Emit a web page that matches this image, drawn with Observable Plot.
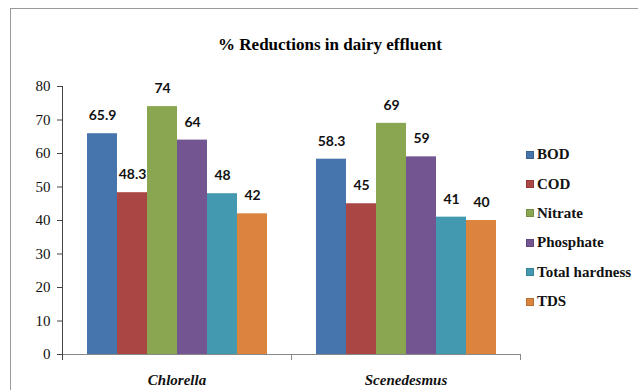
<!DOCTYPE html>
<html>
<head>
<meta charset="utf-8">
<script src="https://cdn.jsdelivr.net/npm/d3@7"></script>
<script src="https://cdn.jsdelivr.net/npm/@observablehq/plot@0.6"></script>
<style>
  body { margin: 0; background: #fff; }
  #wrap { position: relative; width: 638px; height: 390px; overflow: hidden; background: #fff; }
  #box { position: absolute; left: 10px; top: 8px; width: 700px; height: 500px; border: 1px solid #9a9a9a; }
  #title { position: absolute; left: 0; width: 660px; top: 35px; text-align: center;
           font-family: "Liberation Serif", "Times New Roman", Times, "DejaVu Serif", serif;
           font-weight: bold; font-size: 17px; color: #000; }
  #legend { position: absolute; left: 526px; top: 140px;
            font-family: "Liberation Serif", "Times New Roman", Times, "DejaVu Serif", serif;
            font-weight: bold; font-size: 15px; color: #111; }
  .item { display: flex; align-items: center; height: 29.4px; white-space: nowrap; }
  .sw { width: 8px; height: 8px; margin-right: 3px; box-sizing: border-box; border: 1px solid rgba(0,0,0,0.15); }
  #chart svg { position: absolute; left: 0; top: 0; background: transparent; }
</style>
</head>
<body>
<div id="wrap">
  <div id="box"></div>
  <div id="chart"></div>
  <div id="title">% Reductions in dairy effluent</div>
  <div id="legend"></div>
</div>
<script>
// Algae species (groups) and effluent parameters (series)
const groups = ["Chlorella", "Scenedesmus"];
const params = ["BOD", "COD", "Nitrate", "Phosphate", "Total hardness", "TDS"];
const chlorella = [65.9, 48.3, 74, 64, 48, 42];
const scenedesmus = [58.3, 45, 69, 59, 41, 40];
const yTicks = [0, 10, 20, 30, 40, 50, 60, 70, 80];
const colors = ["#4674AC", "#AA4644", "#8AA650", "#735592", "#4299B0", "#DB843D"];

const serif = '"Liberation Serif", "Times New Roman", Times, "DejaVu Serif", serif';

const rows = [];
params.forEach((p, i) => rows.push({group: groups[0], param: p, value: chlorella[i]}));
params.forEach((p, i) => rows.push({group: groups[1], param: p, value: scenedesmus[i]}));

const W = 638, H = 390, mT = 86, mB = 36;

const chart = Plot.plot({
  width: W,
  height: H,
  marginLeft: 61,
  marginRight: 118,
  marginTop: mT,
  marginBottom: mB,
  style: {background: "transparent", overflow: "visible"},
  fx: {domain: groups, padding: 0, axis: null},
  x: {domain: params, paddingInner: 0, paddingOuter: 0.72, axis: null},
  y: {domain: [0, 80], label: null, axis: null},
  color: {domain: params, range: colors},
  marks: [
    Plot.barY(rows, {fx: "group", x: "param", y: "value", fill: "param"}),
    Plot.text(rows, {
      fx: "group", x: "param", y: "value", text: d => String(d.value),
      dy: -18, lineAnchor: "middle", fontFamily: "Lato", fontWeight: "bold", fontSize: 14, fill: "#111"
    }),
    Plot.ruleY([0], {stroke: "#888"}),
    // small category separator ticks below the baseline
    Plot.frame({anchor: "right", insetTop: H - mT - mB, insetBottom: -5, stroke: "#888"}),
    // value axis line
    Plot.frame({anchor: "left", facet: "super", insetBottom: -5, stroke: "#444"}),
    Plot.axisY({
      ticks: yTicks, tickSize: 5, tickPadding: 7, label: null, stroke: "#444",
      fontFamily: serif, fontSize: 15, fill: "#111"
    }),
    Plot.text(groups, {
      fx: d => d, text: d => d, frameAnchor: "bottom", dy: 26, lineAnchor: "middle",
      fontFamily: serif, fontStyle: "italic", fontWeight: "bold", fontSize: 15, fill: "#111"
    })
  ]
});
document.getElementById("chart").appendChild(chart);

// legend built from the same series and colours
const legend = document.getElementById("legend");
params.forEach((p, i) => {
  const item = document.createElement("div");
  item.className = "item";
  const sw = document.createElement("span");
  sw.className = "sw";
  sw.style.background = colors[i];
  const label = document.createElement("span");
  label.textContent = p;
  item.appendChild(sw);
  item.appendChild(label);
  legend.appendChild(item);
});
</script>
</body>
</html>
